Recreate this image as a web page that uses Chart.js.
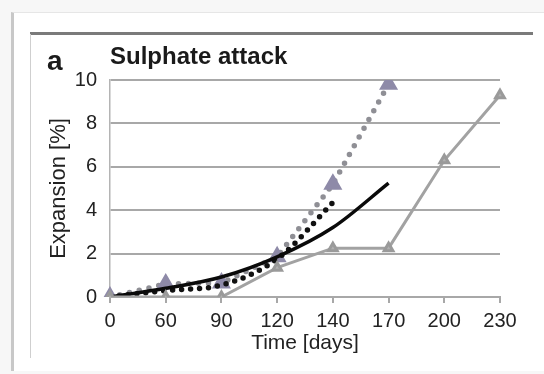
<!DOCTYPE html>
<html>
<head>
<meta charset="utf-8">
<script src="https://cdn.jsdelivr.net/npm/chart.js@4.4.1/dist/chart.umd.min.js"></script>
<style>
  html, body { margin: 0; padding: 0; background: #f7f7f7; }
  body { width: 544px; height: 374px; position: relative; overflow: hidden; font-family: "Liberation Sans", Arial, sans-serif; }
  .frame { position: absolute; left: 11px; top: 12px; width: 540px; height: 358px; background: #fff;
           border-left: 3px solid #c8c8c8; border-top: 1px solid #e6e6e6; }
  .topline { position: absolute; left: 30px; top: 32px; width: 503px; height: 3px; background: #7a7a7a; }
  .sideline { position: absolute; left: 30px; top: 34px; width: 1px; height: 324px; background: #cfcfcf; }
  .wrap { position: absolute; left: 0; top: 0; width: 535px; height: 374px; overflow: hidden; }
  .wrap canvas { position: absolute; left: 0; top: 0; }
  .panel { position: absolute; left: 47px; top: 45px; font-weight: bold; font-size: 28px; color: #1a1a1a; }
  .title { position: absolute; left: 110px; top: 42px; font-weight: bold; font-size: 24px; color: #1a1a1a; }
</style>
</head>
<body>
<div class="frame"></div>
<div class="topline"></div>
<div class="sideline"></div>
<div class="wrap"><canvas id="chart" width="600" height="374"></canvas></div>
<div class="panel">a</div>
<div class="title">Sulphate attack</div>
<script>
// Time categories (equally spaced in the original figure)
const days = ['0', '60', '90', '120', '140', '170', '200', '230'];
const yTicks = [0, 2, 4, 6, 8, 10];

// Expansion [%] per series
const greyTriangles = [0, 0, 0, 1.35, 2.25, 2.25, 6.3, 9.3];
const lavenderDotted = [0, 0.6, 0.65, 1.85, 5.2, 9.8, null, null];
const blackDotted = [0, 0.3, 0.55, 1.75, 4.35, null, null, null];
const blackSolid = [0, 0.4, 0.92, 1.85, 3.2, 5.25, null, null];

const tickFont = { family: '"Liberation Sans", Arial, sans-serif', size: 20 };
const gridGrey = '#a8a8a8';

new Chart(document.getElementById('chart'), {
    type: 'line',
    data: {
        labels: days,
        datasets: [
            {
                label: 'grey',
                data: greyTriangles,
                borderColor: '#a2a2a2',
                backgroundColor: '#a9a9a9',
                borderWidth: 3,
                pointStyle: 'triangle',
                pointRadius: 5,
                pointBorderColor: '#9a9a9a',
                pointBackgroundColor: '#b0b0b0',
                tension: 0
            },
            {
                label: 'black solid',
                data: blackSolid,
                borderColor: '#0a0a0a',
                borderWidth: 3.5,
                pointRadius: 0,
                cubicInterpolationMode: 'monotone'
            },
            {
                label: 'black dotted',
                data: blackDotted,
                borderColor: '#111',
                borderWidth: 5.5,
                borderDash: [0, 9],
                borderCapStyle: 'round',
                pointRadius: 0,
                cubicInterpolationMode: 'monotone'
            },
            {
                label: 'lavender dotted',
                data: lavenderDotted,
                borderColor: '#8f8f95',
                borderWidth: 5.5,
                borderDash: [0, 10],
                borderCapStyle: 'round',
                pointStyle: 'triangle',
                pointRadius: 5.5,
                pointBorderColor: '#8e8aa8',
                pointBackgroundColor: '#a19db9',
                tension: 0
            }
        ]
    },
    options: {
        responsive: false,
        animation: false,
        layout: { padding: { left: 0, top: 80, right: 100, bottom: 0 } },
        plugins: {
            legend: { display: false },
            tooltip: { enabled: false }
        },
        scales: {
            x: {
                offset: false,
                grid: { drawOnChartArea: false, color: gridGrey, lineWidth: 2, tickLength: 6 },
                border: { color: gridGrey, width: 2 },
                ticks: { color: '#222', font: tickFont, padding: 6, maxRotation: 0, autoSkip: false },
                title: { display: true, text: 'Time [days]', color: '#222', font: { family: tickFont.family, size: 21 }, padding: { top: 0, bottom: 18 } },
                afterFit: function(scale) { scale.height = 77; }
            },
            y: {
                min: 0,
                max: 10,
                afterBuildTicks: function(scale) { scale.ticks = yTicks.map(v => ({ value: v })); },
                grid: { color: gridGrey, lineWidth: 2, drawTicks: false },
                border: { color: '#b4b4b4', width: 1.5 },
                ticks: { color: '#222', font: tickFont, padding: 13 },
                title: { display: true, text: 'Expansion [%]', color: '#222', font: { family: tickFont.family, size: 22 }, padding: { top: 46, bottom: 0 } },
                afterFit: function(scale) { scale.width = 110; }
            }
        }
    }
});
</script>
</body>
</html>
